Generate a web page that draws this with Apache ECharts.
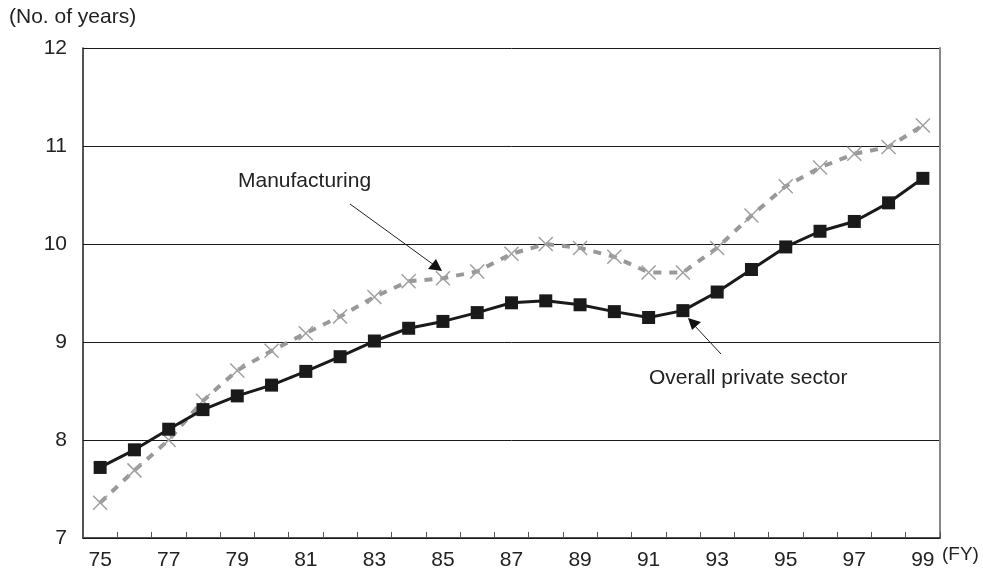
<!DOCTYPE html>
<html>
<head>
<meta charset="utf-8">
<script src="https://cdn.jsdelivr.net/npm/echarts@6/dist/echarts.min.js"></script>
<style>
  html, body { margin: 0; padding: 0; background: #fff; }
  #chart { width: 983px; height: 575px; }
</style>
</head>
<body>
<div id="chart"></div>
<script>
const years = ["75", "76", "77", "78", "79", "80", "81", "82", "83", "84", "85", "86", "87",
    "88", "89", "90", "91", "92", "93", "94", "95", "96", "97", "98", "99"];
const overall = [7.72, 7.90, 8.11, 8.31, 8.45, 8.56, 8.70, 8.85, 9.01, 9.14, 9.21, 9.30, 9.40,
    9.42, 9.38, 9.31, 9.25, 9.32, 9.51, 9.74, 9.97, 10.13, 10.23, 10.42, 10.67];
const manufacturing = [7.36, 7.69, 8.00, 8.40, 8.71, 8.91, 9.09, 9.26, 9.46, 9.62, 9.65, 9.72, 9.90,
    10.00, 9.96, 9.87, 9.71, 9.71, 9.96, 10.29, 10.59, 10.78, 10.92, 10.99, 11.21];
const yTicks = [7, 8, 9, 10, 11, 12];

const font = "Liberation Sans, Arial, sans-serif";
const chart = echarts.init(document.getElementById("chart"));

chart.setOption({
    animation: false,
    backgroundColor: "#fff",
    grid: { left: 83, right: 43, top: 48, bottom: 37 },
    xAxis: {
        type: "category",
        data: years,
        boundaryGap: true,
        axisLine: { lineStyle: { color: "#1a1a1a", width: 1.5 } },
        axisTick: { show: true, inside: true, length: 6, interval: 0, lineStyle: { color: "#555" } },
        axisLabel: { interval: 1, color: "#222", fontSize: 21, fontFamily: font, margin: 12 },
        splitLine: { show: false },
    },
    yAxis: [
        {
            type: "value",
            min: yTicks[0],
            max: yTicks[yTicks.length - 1],
            interval: 1,
            axisLine: { show: true, lineStyle: { color: "#1a1a1a", width: 1.5 } },
            axisTick: { show: false },
            axisLabel: { color: "#222", fontSize: 21, fontFamily: font, margin: 16 },
            splitLine: { lineStyle: { color: "#1a1a1a", width: 1 } },
        },
        {
            type: "value",
            position: "right",
            min: yTicks[0],
            max: yTicks[yTicks.length - 1],
            interval: 1,
            axisLine: { show: true, lineStyle: { color: "#888", width: 2 } },
            axisTick: { show: false },
            axisLabel: { show: false },
            splitLine: { show: false },
        },
    ],
    series: [
        {
            name: "Manufacturing",
            type: "line",
            data: manufacturing,
            symbol: "path://M0,0L10,10M10,0L0,10",
            symbolSize: 14,
            itemStyle: { color: "transparent", borderColor: "#a0a0a0", borderWidth: 1.5 },
            lineStyle: { color: "#999", width: 4, type: [8, 8] },
            z: 2,
        },
        {
            name: "Overall private sector",
            type: "line",
            data: overall,
            symbol: "rect",
            symbolSize: 13,
            itemStyle: { color: "#1a1a1a" },
            lineStyle: { color: "#1a1a1a", width: 3 },
            z: 3,
        },
    ],
    graphic: [
        { type: "text", left: 9, top: 7, style: { text: "(No. of years)", font: "21px " + font, fill: "#222" } },
        { type: "text", left: 942, top: 545, style: { text: "(FY)", font: "19px " + font, fill: "#222" } },
        { type: "text", left: 238, top: 171, style: { text: "Manufacturing", font: "21px " + font, fill: "#222" } },
        { type: "text", left: 649, top: 368, style: { text: "Overall private sector", font: "21px " + font, fill: "#222" } },
        { type: "line", shape: { x1: 350, y1: 204, x2: 434, y2: 265 }, style: { stroke: "#222", lineWidth: 1 } },
        { type: "polygon", shape: { points: [[442, 271], [428, 269], [436, 259]] }, style: { fill: "#111" } },
        { type: "line", shape: { x1: 721, y1: 354, x2: 694, y2: 325 }, style: { stroke: "#222", lineWidth: 1 } },
        { type: "polygon", shape: { points: [[688, 318], [701, 322], [692, 330]] }, style: { fill: "#111" } },
    ],
});
</script>
</body>
</html>
